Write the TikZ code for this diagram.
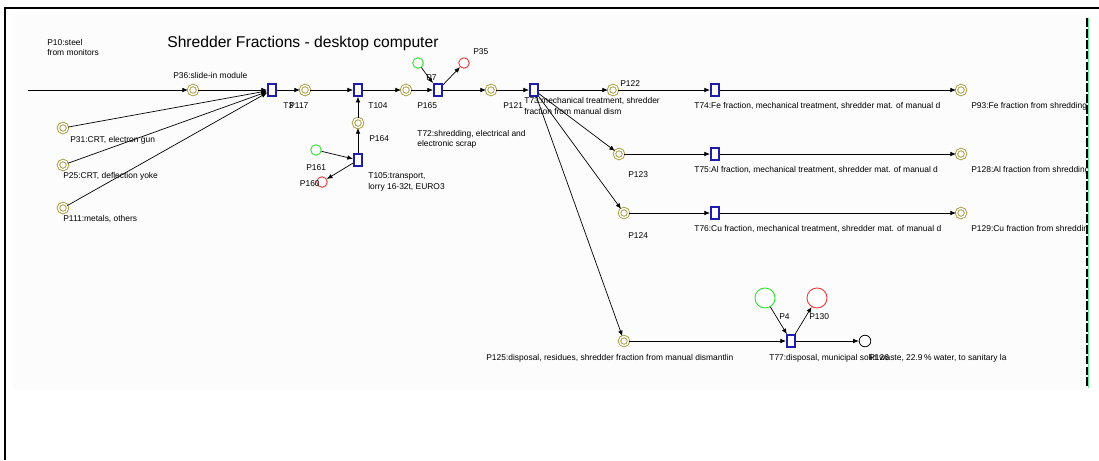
\documentclass[tikz,border=0pt]{standalone}
\usepackage{fontspec}
\setmainfont{Liberation Sans}
\usetikzlibrary{
  arrows.meta,
  positioning
}
\definecolor{placeol}{RGB}{170,160,70}
\definecolor{transblue}{RGB}{30,30,170}
\definecolor{srcgreen}{RGB}{40,225,40}
\definecolor{sinkred}{RGB}{240,50,50}
\definecolor{canvas}{RGB}{252,252,252}
\definecolor{winedge}{RGB}{100,230,150}
\tikzset{
  place/.style = {
    circle, draw=placeol, line width=0.55pt,
    double=white, double distance=0.75pt,
    minimum size=5.2pt, inner sep=0pt
  },
  trans/.style = {
    rectangle, draw=transblue, line width=1.1pt, fill=white,
    minimum width=4.6pt, minimum height=6.6pt, inner sep=0pt
  },
  inplace/.style = {circle, draw=srcgreen, line width=0.5pt, fill=white, minimum size=6pt, inner sep=0pt},
  outplace/.style = {circle, draw=sinkred, line width=0.5pt, fill=white, minimum size=6pt, inner sep=0pt},
  lbl/.style = {anchor=west, inner sep=0pt, align=left, font=\fontsize{4.8}{5.9}\selectfont},
  flow/.style = {-{Latex[length=3.2pt,width=2.6pt]}, line width=0.4pt},
}

\begin{document}
\begin{tikzpicture}[x=0.02cm, y=-0.02cm]
  \useasboundingbox (0,0) rectangle (1099,460);
  % window and canvas
  \fill[canvas] (13,15) rectangle (1087,390);
  \draw[line width=1.2pt] (5,460) -- (5,8) -- (1099,8);
  \draw[winedge, line width=0.6pt] (1088.5,18) -- (1088.5,388);
  \draw[dash pattern=on 5pt off 1.2pt, line width=0.8pt] (1087,18) -- (1087,388);

  \begin{scope}
  \clip (6,9) rectangle (1087,460);
  \node[lbl, anchor=west, font=\fontsize{8.9}{10}\selectfont] (title) at (167,43) {Shredder Fractions - desktop computer};
  \node[lbl] (lp10) at (47,47.5) {P10:steel\\from monitors};

  % places and transitions
  \coordinate (in) at (28,90);
  \node[place] (p36) at (193,90) {};
  \node[place] (p31) at (63,128) {};
  \node[place] (p25) at (63,165) {};
  \node[place] (p111) at (63,208) {};
  \node[trans] (t3) at (272,90) {};
  \node[place] (p117) at (305,90) {};
  \node[trans] (t104) at (358,90) {};
  \node[place] (p164) at (358,123) {};
  \node[trans] (t105) at (358,160) {};
  \node[inplace] (p161) at (316,150) {};
  \node[outplace] (p160) at (322,182) {};
  \node[place] (p165) at (406,90) {};
  \node[trans] (t72) at (438,90) {};
  \node[inplace] (p7) at (418,63) {};
  \node[outplace] (p35) at (464,63) {};
  \node[place] (p121) at (491,90) {};
  \node[trans] (t73) at (534,90) {};
  \node[place] (p122) at (613,90) {};
  \node[place] (p123) at (619,154) {};
  \node[place] (p124) at (624,213) {};
  \node[place] (p125) at (624,341) {};
  \node[trans] (t74) at (715,90) {};
  \node[trans] (t75) at (715,154) {};
  \node[trans] (t76) at (715,213) {};
  \node[trans] (t77) at (791,341) {};
  \node[place] (p93) at (961,90) {};
  \node[place] (p128) at (961,154) {};
  \node[place] (p129) at (961,213) {};
  \node[inplace, minimum size=11.4pt] (p4) at (765,298) {};
  \node[outplace, minimum size=11.4pt] (p130) at (817,298) {};
  \node[circle, draw, line width=0.45pt, fill=white, minimum size=6.6pt, inner sep=0pt] (p126) at (865,341) {};

  % flows
  \draw[flow] (in) -- (p36);
  \draw[flow] (p36) -- (t3);
  \draw[flow] (p31) -- (t3);
  \draw[flow] (p25) -- (t3);
  \draw[flow] (p111) -- (t3);
  \draw[flow] (t3) -- (p117);
  \draw[flow] (p117) -- (t104);
  \draw[flow] (t104) -- (p165);
  \draw[flow] (p165) -- (t72);
  \draw[flow] (p7) -- (t72);
  \draw[flow] (t72) -- (p35);
  \draw[flow] (t72) -- (p121);
  \draw[flow] (p121) -- (t73);
  \draw[flow] (p161) -- (t105);
  \draw[flow] (t105) -- (p160);
  \draw[flow] (t105) -- (p164);
  \draw[flow] (p164) -- (t104);
  \draw[flow] (t73) -- (p122);
  \draw[flow] (t73) -- (p123);
  \draw[flow] (t73) -- (p124);
  \draw[flow] (t73) -- (p125);
  \draw[flow] (p122) -- (t74);
  \draw[flow] (t74) -- (p93);
  \draw[flow] (p123) -- (t75);
  \draw[flow] (t75) -- (p128);
  \draw[flow] (p124) -- (t76);
  \draw[flow] (t76) -- (p129);
  \draw[flow] (p125) -- (t77);
  \draw[flow] (p4) -- (t77);
  \draw[flow] (t77) -- (p130);
  \draw[flow] (t77) -- (p126);

  % labels
  \node[lbl] (lp36) at (173,75) {P36:slide-in module};
  \node[lbl] (lp31) at (70,140) {P31:CRT, electron gun};
  \node[lbl] (lp25) at (63,176) {P25:CRT, deflection yoke};
  \node[lbl] (lp111) at (63,219) {P111:metals, others};
  \node[lbl] (lt3) at (283,106) {T3};
  \node[lbl] (lp117) at (289,106) {P117};
  \node[lbl] (lt104) at (368,106) {T104};
  \node[lbl] (lp165) at (417,106) {P165};
  \node[lbl] (lp121) at (503,106) {P121};
  \node[lbl] (lt73) at (524,106) {T73:mechanical treatment, shredder\\fraction from manual dism};
  \node[lbl] (lp164) at (369,139) {P164};
  \node[lbl] (lt72) at (417,139) {T72:shredding, electrical and\\electronic scrap};
  \node[lbl] (lp161) at (306,168) {P161};
  \node[lbl] (lt105) at (368,182) {T105:transport,\\ lorry 16-32t, EURO3};
  \node[lbl, anchor=east] (lp160) at (320,184) {P160};
  \node[lbl] (lp7) at (426,78) {P7};
  \node[lbl] (lp35) at (473,52) {P35};
  \node[lbl] (lp122) at (620,84) {P122};
  \node[lbl] (lt74) at (694,106) {T74:Fe fraction, mechanical treatment, shredder mat. of manual d};
  \node[lbl] (lp93) at (971,106) {P93:Fe fraction from shredding};
  \node[lbl] (lp123) at (628,175) {P123};
  \node[lbl] (lt75) at (694,170) {T75:Al fraction, mechanical treatment, shredder mat. of manual d};
  \node[lbl] (lp128) at (971,170) {P128:Al fraction from shredding};
  \node[lbl] (lp124) at (628,236) {P124};
  \node[lbl] (lt76) at (694,229) {T76:Cu fraction, mechanical treatment, shredder mat. of manual d};
  \node[lbl] (lp129) at (971,229) {P129:Cu fraction from shredding};
  \node[lbl] (lp125) at (486,358) {P125:disposal, residues, shredder fraction from manual dismantlin};
  \node[lbl] (lt77) at (769,358) {T77:disposal, municipal solid waste, 22.9\,\% water, to sanitary la};
  \node[lbl] (lp126) at (869,358) {P126};
  \node[lbl] (lp4) at (779,317) {P4};
  \node[lbl] (lp130) at (809,317) {P130};
  \end{scope}
\end{tikzpicture}
\end{document}
